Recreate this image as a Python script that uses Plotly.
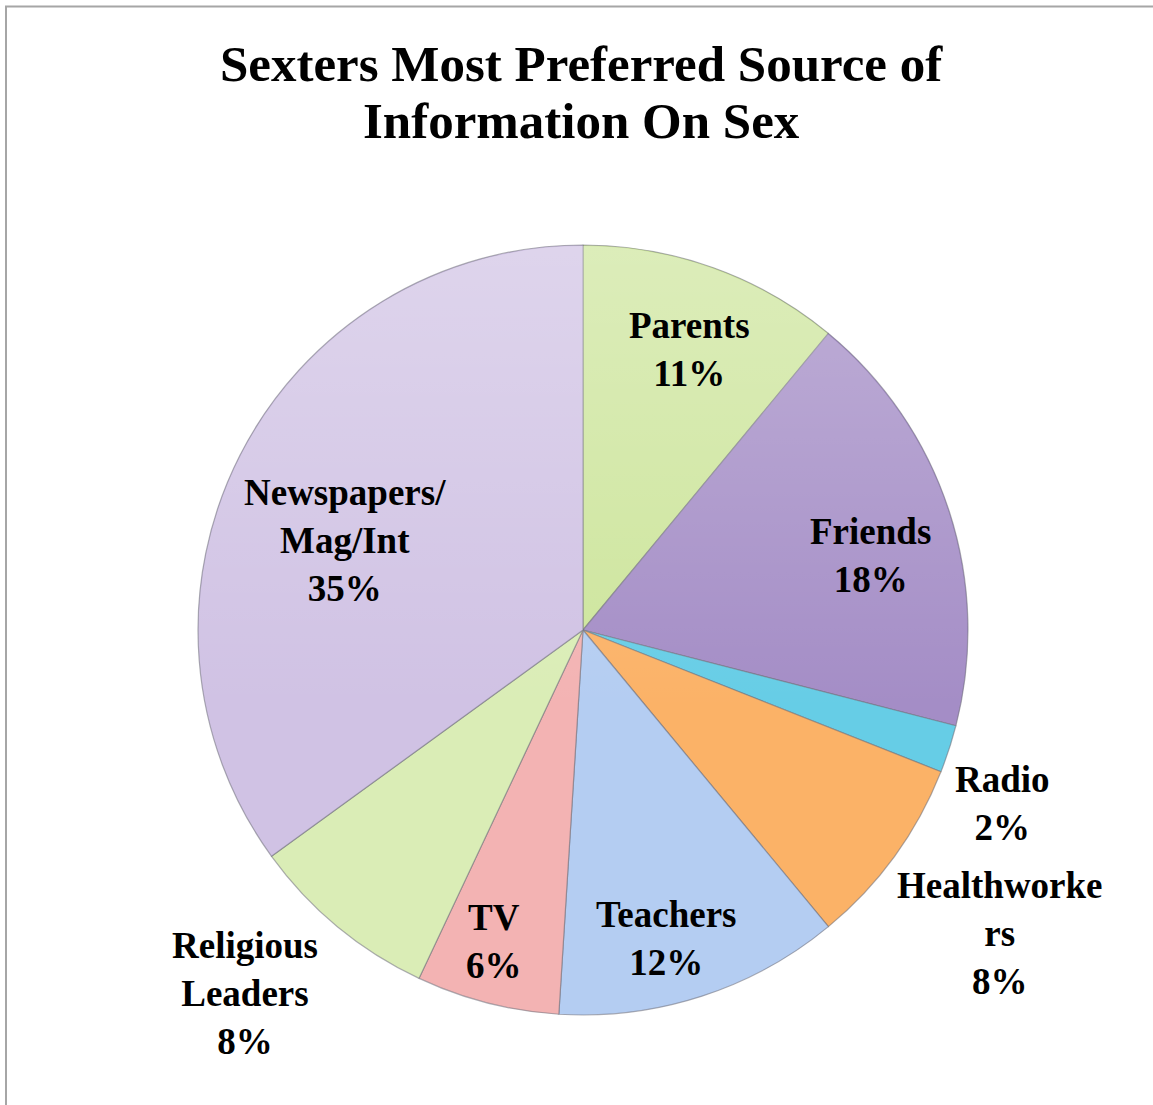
import math
import base64
import plotly.graph_objects as go

# Survey shares (percent), clockwise from 12 o'clock
categories = ["Parents", "Friends", "Radio", "Healthworkers", "Teachers",
              "TV", "Religious Leaders", "Newspapers/Mag/Int"]
shares = [11, 18, 2, 8, 12, 6, 8, 35]
# How each category name is broken over lines in its label
display_labels = ["Parents", "Friends", "Radio", "Healthworke<br>rs", "Teachers",
                  "TV", "Religious<br>Leaders", "Newspapers/<br>Mag/Int"]
title_lines = ["Sexters Most Preferred Source of", "Information On Sex"]

colors = ["#cde59c", "#a48dc6", "#66cde6", "#fbb267", "#b4cdf2",
          "#f3b3b3", "#daedb6", "#d0c2e4"]

W, H = 1153, 1105
# pie geometry in pixels
CX, CY, R = 583, 630, 385

# label placement: radial distance (in radii) and angular nudge (deg)
label_radius = [0.78, 0.77, 1.18, 1.34, 0.83, 0.84, 1.29, 0.66]
label_nudge = [1.0, 3.5, 4.5, 0.0, 3.0, 1.5, 3.3, -6.3]

fig = go.Figure()
fig.add_trace(go.Pie(
    labels=categories,
    values=shares,
    sort=False,
    direction="clockwise",
    rotation=0,
    textinfo="none",
    hoverinfo="label+percent",
    marker=dict(colors=colors, line=dict(color="rgba(110,110,120,0.55)", width=1.2)),
    domain=dict(x=[(CX - R) / W, (CX + R) / W], y=[1 - (CY + R) / H, 1 - (CY - R) / H]),
    showlegend=False,
))

# soft highlight on the upper half of the disc
sheen_svg = (
    '<svg xmlns="http://www.w3.org/2000/svg" width="770" height="770" viewBox="0 0 770 770">'
    '<defs><linearGradient id="g" x1="0" y1="0" x2="0" y2="1">'
    '<stop offset="0" stop-color="#ffffff" stop-opacity="0.30"/>'
    '<stop offset="0.6" stop-color="#ffffff" stop-opacity="0"/>'
    '<stop offset="1" stop-color="#ffffff" stop-opacity="0"/>'
    '</linearGradient></defs>'
    '<circle cx="385" cy="385" r="384" fill="url(#g)"/></svg>'
)
sheen_src = "data:image/svg+xml;base64," + base64.b64encode(sheen_svg.encode()).decode()

label_font = dict(family="Liberation Serif", size=37, color="black", weight="bold")
total = sum(shares)
cum = 0.0
annotations = []
for lab, v, rf, nd in zip(display_labels, shares, label_radius, label_nudge):
    mid = (cum + v / 2) / total * 360 + nd
    cum += v
    px = CX + rf * R * math.sin(math.radians(mid))
    py = CY - rf * R * math.cos(math.radians(mid))
    annotations.append(dict(
        x=px / W, y=1 - py / H, xref="paper", yref="paper",
        text=f"{lab}<br>{v}%", showarrow=False,
        xanchor="center", yanchor="middle", align="center",
        font=label_font,
    ))

# two-line chart title, centred above the pie
title_font = dict(family="Liberation Serif", size=51, color="black", weight="bold")
for line, yc in zip(title_lines, [64, 121]):
    annotations.append(dict(
        x=581 / W, y=1 - yc / H, xref="paper", yref="paper",
        text=line, showarrow=False, xanchor="center", yanchor="middle",
        font=title_font,
    ))

fig.update_layout(
    width=W, height=H,
    margin=dict(l=0, r=0, t=0, b=0),
    paper_bgcolor="white",
    plot_bgcolor="white",
    annotations=annotations,
    images=[dict(source=sheen_src, xref="paper", yref="paper",
                 x=(CX - R) / W, y=1 - (CY - R) / H,
                 sizex=2 * R / W, sizey=2 * R / H,
                 xanchor="left", yanchor="top", sizing="stretch",
                 layer="above", opacity=1)],
    shapes=[dict(type="rect", xref="paper", yref="paper",
                 x0=6 / W, x1=1.2, y0=-0.2, y1=1 - 6.5 / H,
                 line=dict(color="#a6a6a6", width=2))],
)

fig.write_html("out.html")
